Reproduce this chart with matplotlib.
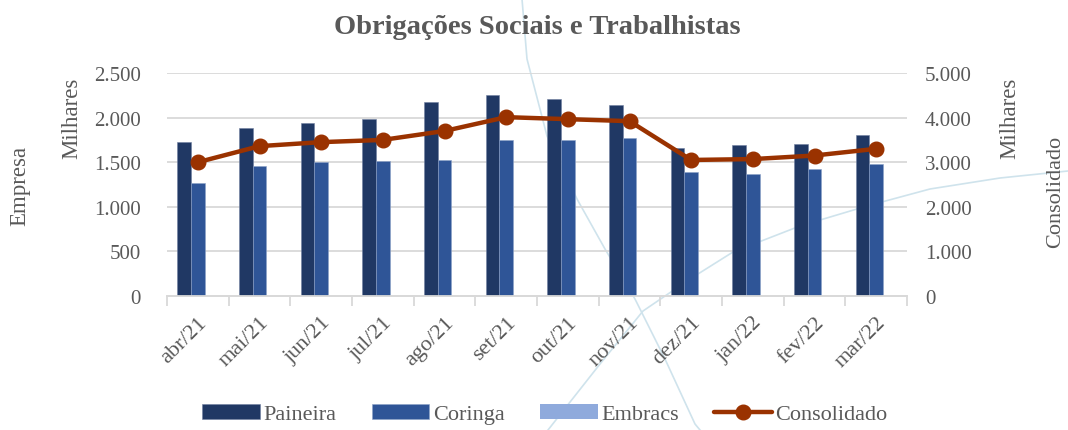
import numpy as np
import matplotlib
matplotlib.use("Agg")
import matplotlib.pyplot as plt
from matplotlib.lines import Line2D
from matplotlib.ticker import FuncFormatter, MultipleLocator

# ── DATA ────────────────────────────────────────────────────────────────────
months = ["abr/21", "mai/21", "jun/21", "jul/21", "ago/21", "set/21",
          "out/21", "nov/21", "dez/21", "jan/22", "fev/22", "mar/22"]
paineira    = [1730, 1885, 1940, 1985, 2175, 2255, 2210, 2140, 1660, 1695, 1705, 1805]
coringa     = [1265, 1455, 1500, 1515, 1525, 1745, 1750, 1770, 1390, 1365, 1425, 1480]
embracs     = [0, 0, 0, 0, 0, 0, 0, 0, 0, 0, 0, 0]
consolidado = [3000, 3360, 3450, 3500, 3700, 4010, 3965, 3920, 3050, 3070, 3150, 3300]

# ── STYLE ───────────────────────────────────────────────────────────────────
GREY   = "#595959"
C_PAI  = "#203864"
C_COR  = "#2f5597"
C_EMB  = "#8faadc"
C_CON  = "#9a3200"
FAM    = ["Liberation Serif", "DejaVu Serif"]
plt.rcParams["font.family"] = FAM

W, H = 1068, 431
fig = plt.figure(figsize=(W / 100, H / 100), dpi=100)

# faint decorative background curves (pixel coords -> figure coords)
deco = [
    [(522, 0), (527, 60), (547, 137), (577, 200), (605, 250), (635, 300),
     (665, 360), (695, 425), (700, 431)],
    [(548, 431), (600, 365), (643, 312), (690, 280), (733, 253), (800, 227),
     (867, 207), (930, 190), (1000, 179), (1068, 172)],
]
for pts in deco:
    xs = [p[0] / W for p in pts]
    ys = [1 - p[1] / H for p in pts]
    fig.add_artist(Line2D(xs, ys, color="#cfe3ec", lw=1.2, zorder=0))

ax = fig.add_axes([167 / W, 1 - 297 / H, (907 - 167) / W, (297 - 74) / H])
ax.patch.set_alpha(0)
ax2 = ax.twinx()

x = np.arange(len(months))
bw = 0.22
ax.bar(x - bw, paineira, bw, color=C_PAI, edgecolor="#6f7fa0", lw=0.4, label="Paineira", zorder=3)
ax.bar(x, coringa, bw, color=C_COR, edgecolor="#8da2c8", lw=0.4, label="Coringa", zorder=3)
ax.bar(x + bw, embracs, bw, color=C_EMB, label="Embracs", zorder=3)

ax2.plot(x, consolidado, color=C_CON, lw=3.2, marker="o", ms=10.5,
         label="Consolidado", zorder=4, solid_capstyle="round")

fmt = FuncFormatter(lambda v, p: f"{int(v):,}".replace(",", "."))
ax.set_ylim(0, 2500)
ax.yaxis.set_major_locator(MultipleLocator(500))
ax.yaxis.set_major_formatter(fmt)
ax2.set_ylim(0, 5000)
ax2.yaxis.set_major_locator(MultipleLocator(1000))
ax2.yaxis.set_major_formatter(fmt)
ax.set_xlim(-0.5, len(months) - 0.5)

ax.grid(axis="y", color="#d9d9d9", lw=1.3, zorder=0)
for a in (ax, ax2):
    for s in ("top", "left", "right"):
        a.spines[s].set_visible(False)
    a.spines["bottom"].set_color("#d9d9d9")
    a.spines["bottom"].set_linewidth(1.3)

ax.tick_params(axis="y", length=0, pad=19, labelsize=15, labelcolor=GREY)
ax2.tick_params(axis="y", length=0, pad=13, labelsize=15, labelcolor=GREY)
ax.set_xticks(x)
ax.set_xticklabels(months, rotation=45, ha="right", rotation_mode="anchor",
                   fontsize=16, color=GREY)
ax.set_xticks(np.arange(-0.5, len(months)), minor=True)
ax.tick_params(axis="x", which="major", length=0, pad=12)
ax.tick_params(axis="x", which="minor", length=7, width=1.3, color="#d9d9d9")

# axis titles
fig.text(20 / W, 1 - 186 / H, "Empresa", rotation=90, ha="center", va="center",
         fontsize=16.5, color=GREY)
fig.text(72 / W, 1 - 118 / H, "Milhares", rotation=90, ha="center", va="center",
         fontsize=16.5, color=GREY)
fig.text(1010 / W, 1 - 118 / H, "Milhares", rotation=90, ha="center", va="center",
         fontsize=16.5, color=GREY)
fig.text(1056 / W, 1 - 192 / H, "Consolidado", rotation=90, ha="center", va="center",
         fontsize=16, color=GREY)

fig.text(0.503, 1 - 27 / H, "Obrigações Sociais e Trabalhistas", ha="center",
         va="center", fontsize=20.5, fontweight="bold", color=GREY)

h1, l1 = ax.get_legend_handles_labels()
h2, l2 = ax2.get_legend_handles_labels()
leg = fig.legend(h1 + h2, l1 + l2, loc="center", bbox_to_anchor=(0.51, 1 - 415 / H),
                 ncol=4, frameon=False, prop={"family": FAM, "size": 16},
                 handlelength=2.6, handleheight=0.7, handletextpad=0.15,
                 columnspacing=1.6)
for t in leg.get_texts():
    t.set_color(GREY)

fig.savefig("out.png", dpi=100)
